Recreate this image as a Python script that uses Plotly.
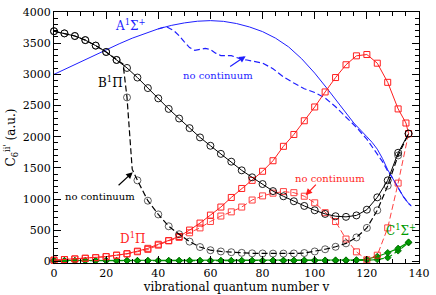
import plotly.graph_objects as go

# ---------------- data ----------------
v4 = list(range(0, 137, 4))

# B1Pi (black, solid, circles)
B_solid = [3692, 3657, 3615, 3549, 3461, 3359, 3231, 3103, 2949, 2780, 2615, 2446,
           2292, 2138, 1989, 1855, 1725, 1600, 1461, 1349, 1241, 1128, 1045, 965,
           890, 820, 762, 725, 715, 738, 830, 1028, 1300, 1743, 2050]

# B1Pi no continuum (black dashed)
v_Bd = [0, 4, 8, 12, 16, 20, 24, 26.5, 28, 30, 32, 36, 40, 44, 48, 52, 56, 60, 64, 68,
        72, 76, 80, 84, 88, 92, 96, 100, 104, 108, 112, 116, 120, 124, 128, 132, 136]
B_dash = [3692, 3657, 3615, 3549, 3461, 3359, 3231, 3165, 2630, 1480, 1300, 974, 754,
          564, 436, 318, 231, 180, 160, 148, 138, 130, 128, 126, 126, 128, 135, 160,
          195, 235, 290, 385, 538, 820, 1215, 1700, 2050]
B_dash_marker = [0 if v in (26.5, 30) else 7 for v in v_Bd]

# D1Pi (red, solid, squares)
v_Ds = list(range(0, 133, 4)) + [135, 136]
D_solid = [20, 30, 40, 51, 60, 77, 100, 125, 165, 210, 275, 335, 400, 503, 615, 743,
           872, 1026, 1170, 1300, 1446, 1615, 1846, 2036, 2256, 2477, 2718, 2949, 3154,
           3297, 3318, 3179, 2872, 2446, 2220, 2050]

# D1Pi no continuum (red dashed)
D_dash = [20, 30, 40, 51, 60, 77, 100, 120, 155, 192, 260, 330, 385, 460, 538, 641, 728,
          795, 872, 985, 1051, 1095, 1120, 1103, 1046, 940, 782, 640, 359, 154, 26, 100,
          538, 1256, 2050]

# C1Sigma+ (green)
C_solid = [15, 15, 15, 15, 15, 15, 15, 15, 15, 15, 15, 15, 15, 15, 15, 15, 15, 15, 15,
           15, 15, 18, 18, 18, 20, 20, 20, 22, 22, 25, 35, 80, 140, 210, 310]
C_dash = [10, 10, 10, 10, 10, 10, 10, 10, 10, 10, 10, 10, 10, 10, 10, 10, 10, 10, 10,
          10, 10, 10, 10, 10, 10, 12, 12, 12, 12, 15, 18, 30, 60, 170, 300]

# A1Sigma+ (blue)
v_As = [0, 5, 10, 15, 20, 25, 30, 35, 40, 45, 50, 55, 60, 65, 70, 75, 80, 85, 90, 95,
        100, 105, 110, 115, 120, 122, 124, 126, 128, 130, 132, 134, 136, 137]
A_solid = [3000, 3100, 3200, 3300, 3395, 3490, 3580, 3660, 3730, 3785, 3825, 3852, 3862,
           3850, 3815, 3760, 3685, 3580, 3440, 3250, 3020, 2760, 2480, 2220, 2000, 1910,
           1800, 1650, 1470, 1330, 1180, 1040, 930, 890]
v_Ad = [40, 43, 46, 48, 50, 52, 54, 56, 58, 60, 62, 64, 66, 68, 70, 72, 74, 76, 80, 84,
        88, 92, 96, 100, 104, 108, 112, 116, 120, 122, 124, 126, 128, 130, 132, 134, 136, 137]
A_dash = [3730, 3765, 3700, 3620, 3520, 3430, 3385, 3395, 3415, 3400, 3340, 3300, 3305,
          3300, 3270, 3240, 3230, 3215, 3180, 3090, 2960, 2860, 2770, 2710, 2620, 2480,
          2320, 2150, 1960, 1840, 1720, 1600, 1450, 1330, 1180, 1040, 930, 890]

x_ticks = [0, 20, 40, 60, 80, 100, 120, 140]
y_ticks = [0, 500, 1000, 1500, 2000, 2500, 3000, 3500, 4000]

# ---------------- styles ----------------
BLUE = "#1f1fff"
RED = "#ff1f1f"
GREEN = "#009a00"
BLACK = "#000000"
FONT = "DejaVu Serif"
DASH = "6px,3px"

fig = go.Figure()

# blue
fig.add_trace(go.Scatter(x=v_As, y=A_solid, mode="lines",
                         line=dict(color=BLUE, width=1), cliponaxis=False))
fig.add_trace(go.Scatter(x=v_Ad, y=A_dash, mode="lines",
                         line=dict(color=BLUE, width=1.2, dash=DASH), cliponaxis=False))

# green
fig.add_trace(go.Scatter(x=v4, y=C_dash, mode="lines+markers",
                         line=dict(color=GREEN, width=1.2, dash=DASH),
                         marker=dict(symbol="diamond", size=5, color=GREEN,
                                     line=dict(color="#006000", width=0.8)),
                         cliponaxis=False))
fig.add_trace(go.Scatter(x=v4, y=C_solid, mode="lines+markers",
                         line=dict(color=GREEN, width=1.2),
                         marker=dict(symbol="diamond", size=5, color=GREEN,
                                     line=dict(color="#006000", width=0.8)),
                         cliponaxis=False))

# red
fig.add_trace(go.Scatter(x=v4, y=D_dash, mode="lines+markers",
                         line=dict(color=RED, width=1, dash=DASH),
                         marker=dict(symbol="square-open", size=6, color=RED,
                                     line=dict(width=1)),
                         opacity=0.85, cliponaxis=False))
fig.add_trace(go.Scatter(x=v_Ds, y=D_solid, mode="lines+markers",
                         line=dict(color=RED, width=1),
                         marker=dict(symbol="square-open", size=6, color=RED,
                                     line=dict(width=1)),
                         cliponaxis=False))

# black
fig.add_trace(go.Scatter(x=v_Bd, y=B_dash, mode="lines+markers",
                         line=dict(color=BLACK, width=1.2, dash=DASH),
                         marker=dict(symbol="circle-open", size=B_dash_marker, color=BLACK,
                                     line=dict(width=0.9)),
                         cliponaxis=False))
fig.add_trace(go.Scatter(x=v4, y=B_solid, mode="lines+markers",
                         line=dict(color=BLACK, width=1),
                         marker=dict(symbol="circle-open", size=7, color=BLACK,
                                     line=dict(width=0.9)),
                         cliponaxis=False))

# ---------------- annotations ----------------
def label(x, y, text, color, size=12):
    fig.add_annotation(x=x, y=y, text=text, showarrow=False, xref="x", yref="y",
                       font=dict(family=FONT, size=size, color=color))

def arrow(x0, y0, x1, y1, color):
    fig.add_annotation(x=x1, y=y1, ax=x0, ay=y0, xref="x", yref="y",
                       axref="x", ayref="y", text="", showarrow=True,
                       arrowhead=2, arrowsize=1.1, arrowwidth=1.2, arrowcolor=color)

label(29.5, 3790, "A<sup>1</sup>Σ<sup>+</sup>", BLUE, 12)
label(62.8, 2985, "no continuum", BLUE, 10)
arrow(67, 3110, 73.5, 3292, BLUE)

label(21.6, 2877, "B<sup>1</sup>Π", BLACK, 12)
label(17.8, 1046, "no continuum", BLACK, 10)
arrow(24.2, 1200, 30.2, 1431, BLACK)

label(30, 370, "D<sup>1</sup>Π", RED, 12)
label(106, 1338, "no continuum", RED, 10)
arrow(101, 1257, 96.5, 1060, RED)

label(133.2, 510, "C<sup>1</sup>Σ<sup>+</sup>", GREEN, 12)

# ---------------- layout ----------------
axis_common = dict(showline=True, linecolor=BLACK, linewidth=1, mirror="allticks",
                   ticks="inside", ticklen=7, tickwidth=1, tickcolor=BLACK,
                   showgrid=False, zeroline=False, ticklabeloverflow="allow",
                   tickfont=dict(family=FONT, size=11, color=BLACK))

fig.update_xaxes(range=[0, 140], tickvals=x_ticks,
                 minor=dict(ticks="inside", ticklen=4, dtick=5, tickcolor=BLACK, showgrid=False),
                 title=dict(text="vibrational quantum number v",
                            font=dict(family=FONT, size=12, color=BLACK), standoff=0),
                 **axis_common)
fig.update_yaxes(range=[-25, 4000], tickvals=y_ticks,
                 minor=dict(ticks="inside", ticklen=4, dtick=100, tickcolor=BLACK, showgrid=False),
                 title=dict(text="C<sub>6</sub><sup>ii'</sup> (a.u.)",
                            font=dict(family=FONT, size=12, color=BLACK), standoff=4),
                 **axis_common)

fig.update_layout(width=436, height=295, showlegend=False,
                  font=dict(family=FONT),
                  margin=dict(l=54, r=11, t=6, b=28),
                  plot_bgcolor="white", paper_bgcolor="white")

fig.write_html("out.html", config={"displayModeBar": False},
               post_script="document.body.style.margin='0';document.body.style.overflow='hidden';")
